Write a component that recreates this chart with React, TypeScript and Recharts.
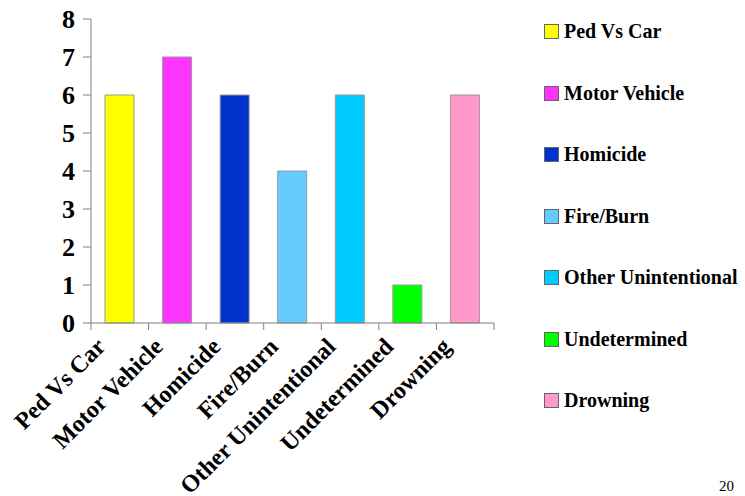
import { BarChart, Bar, XAxis, YAxis, Cell } from "recharts";

const categories = [
  "Ped Vs Car",
  "Motor Vehicle",
  "Homicide",
  "Fire/Burn",
  "Other Unintentional",
  "Undetermined",
  "Drowning",
];
const counts = [6, 7, 6, 4, 6, 1, 6];
const colors = ["#FFFF00", "#FF33FF", "#0033CC", "#66CCFF", "#00CCFF", "#00FF00", "#FF99CC"];
const yTicks = [0, 1, 2, 3, 4, 5, 6, 7, 8];

const data = categories.map((name, i) => ({ name, value: counts[i] }));

const serif = "'Liberation Serif', 'Times New Roman', serif";

// label rotated -45deg, ending just left of the category centre, plus a tick mark
// at the boundary between categories (the band's left edge, and the right edge for the last one)
function CategoryTick({ x, y, payload, index, visibleTicksCount }: any) {
  const half = payload.offset || 0;
  const axisY = y - 8;
  return (
    <g>
      <line x1={x - half} x2={x - half} y1={axisY} y2={axisY + 7} stroke="#808080" />
      {index === visibleTicksCount - 1 && (
        <line x1={x + half} x2={x + half} y1={axisY} y2={axisY + 7} stroke="#808080" />
      )}
      <g transform={`translate(${x - 13},${y + 17})`}>
        <text
          transform="rotate(-45)"
          textAnchor="end"
          fontFamily={serif}
          fontWeight="bold"
          fontSize={24}
          fill="#000"
        >
          {payload.value}
        </text>
      </g>
    </g>
  );
}

function CategoryLegend() {
  return (
    <div
      style={{
        position: "absolute",
        left: 544,
        top: 1,
        fontFamily: serif,
        fontWeight: "bold",
        fontSize: 20,
        color: "#000",
      }}
    >
      {categories.map((c, i) => (
        <div key={c} style={{ display: "flex", alignItems: "center", height: 61.5 }}>
          <span
            style={{
              width: 13,
              height: 13,
              background: colors[i],
              border: "1px solid #666",
              marginRight: 5,
              display: "inline-block",
            }}
          />
          {c}
        </div>
      ))}
    </div>
  );
}

export default function App() {
  return (
    <div style={{ position: "absolute", left: 0, top: 0, width: 745, height: 496, background: "#fff" }}>
      <BarChart
        width={745}
        height={496}
        data={data}
        margin={{ top: 19, right: 251, bottom: 0, left: 0 }}
      >
        <XAxis
          dataKey="name"
          interval={0}
          tick={<CategoryTick />}
          tickLine={false}
          axisLine={{ stroke: "#808080" }}
          height={173}
        />
        <YAxis
          domain={[0, 8]}
          ticks={yTicks}
          interval={0}
          width={91}
          axisLine={{ stroke: "#808080" }}
          tickLine={{ stroke: "#808080" }}
          tickSize={8}
          tickMargin={8}
          tick={{ fontFamily: serif, fontWeight: "bold", fontSize: 26, fill: "#000" }}
        />
        <Bar dataKey="value" barSize={29} isAnimationActive={false} stroke="#999" strokeWidth={1}>
          {data.map((d, i) => (
            <Cell key={d.name} fill={colors[i]} />
          ))}
        </Bar>
      </BarChart>
      <CategoryLegend />
      <div
        style={{
          position: "absolute",
          left: 719,
          top: 478,
          fontFamily: serif,
          fontSize: 15,
          color: "#000",
        }}
      >
        20
      </div>
    </div>
  );
}
